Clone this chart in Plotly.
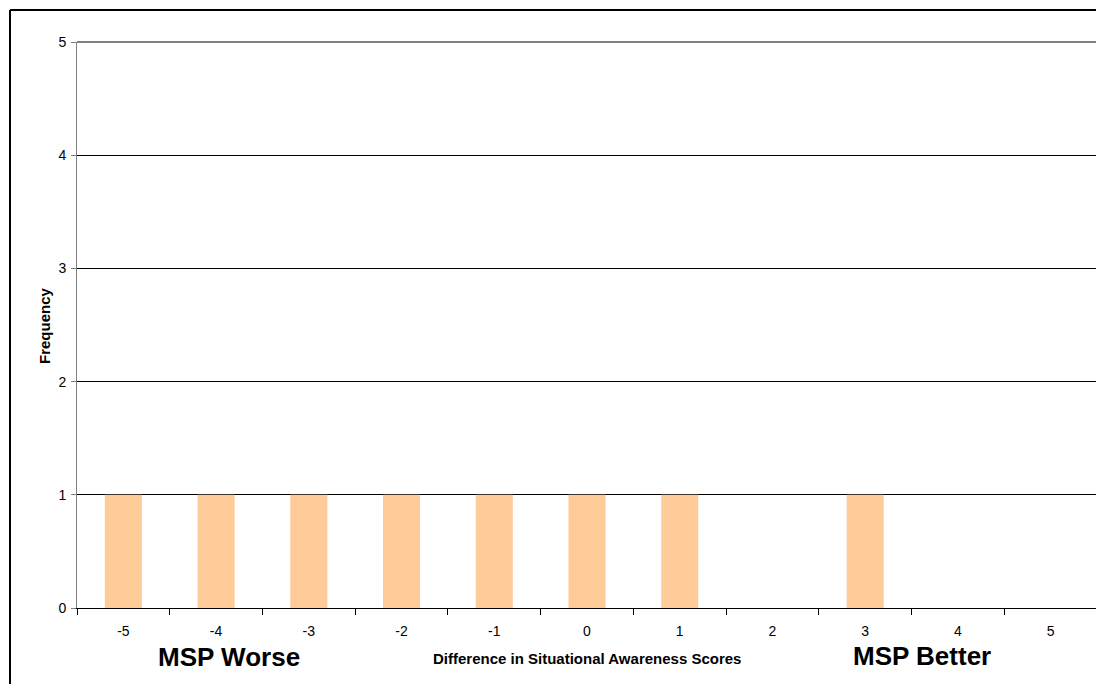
import plotly.graph_objects as go

categories = ["-5", "-4", "-3", "-2", "-1", "0", "1", "2", "3", "4", "5"]
frequency = [1, 1, 1, 1, 1, 1, 1, 0, 1, 0, 0]
y_ticks = [0, 1, 2, 3, 4, 5]

FONT = "Arial, Liberation Sans, sans-serif"

# page has an 8px body margin; plot area in page px: x 77..1097, y 42..608
PX0, PX1, PY0, PY1 = 77, 1097, 42, 608
W, H = PX1 - PX0, PY1 - PY0


def px(x):
    return (x - PX0) / W


def py(y):
    return (PY1 - y) / H


fig = go.Figure()
fig.add_trace(go.Bar(
    x=categories, y=frequency,
    marker=dict(color="#FFCC99", line=dict(width=0)),
    showlegend=False,
))

fig.update_layout(
    width=1096, height=676,
    margin=dict(l=69, r=7, t=34, b=76),
    paper_bgcolor="white", plot_bgcolor="white",
    bargap=0.6,
    font=dict(family=FONT, color="black"),
    xaxis=dict(
        type="category",
        tickson="boundaries",
        ticks="outside", ticklen=6, tickcolor="black",
        showline=True, linecolor="black", linewidth=1,
        showgrid=False,
        tickfont=dict(size=14, family=FONT),
        ticklabelstandoff=10,
    ),
    yaxis=dict(
        range=[0, 5],
        tickvals=y_ticks,
        ticks="outside", ticklen=5, tickcolor="#808080",
        showline=True, linecolor="#808080", linewidth=1,
        showgrid=True, gridcolor="black", gridwidth=1,
        zeroline=False,
        tickfont=dict(size=14, family=FONT),
        ticklabelstandoff=2,
    ),
    annotations=[
        dict(text="<b>Frequency</b>", xref="paper", yref="paper", textangle=-90,
             x=px(44), y=py(326), xanchor="center", yanchor="middle",
             showarrow=False, font=dict(size=15, family=FONT)),
        dict(text="<b>Difference in Situational Awareness Scores</b>", xref="paper", yref="paper",
             x=px(587), y=py(658), xanchor="center", yanchor="middle",
             showarrow=False, font=dict(size=15, family=FONT)),
        dict(text="<b>MSP Worse</b>", xref="paper", yref="paper",
             x=px(229), y=py(657), xanchor="center", yanchor="middle",
             showarrow=False, font=dict(size=26, family=FONT)),
        dict(text="<b>MSP Better</b>", xref="paper", yref="paper",
             x=px(922), y=py(656), xanchor="center", yanchor="middle",
             showarrow=False, font=dict(size=26, family=FONT)),
    ],
    shapes=[
        # top border of the plot area (gray)
        dict(type="line", xref="paper", yref="paper", x0=0, x1=1, y0=1, y1=1,
             line=dict(color="#808080", width=2)),
        # outer chart frame (top and left edges; the others run off the image)
        dict(type="line", xref="paper", yref="paper",
             x0=px(10), x1=1.2, y0=py(10), y1=py(10),
             line=dict(color="black", width=2)),
        dict(type="line", xref="paper", yref="paper",
             x0=px(10), x1=px(10), y0=py(10), y1=-0.3,
             line=dict(color="black", width=2)),
    ],
)

fig.write_html("out.html")
